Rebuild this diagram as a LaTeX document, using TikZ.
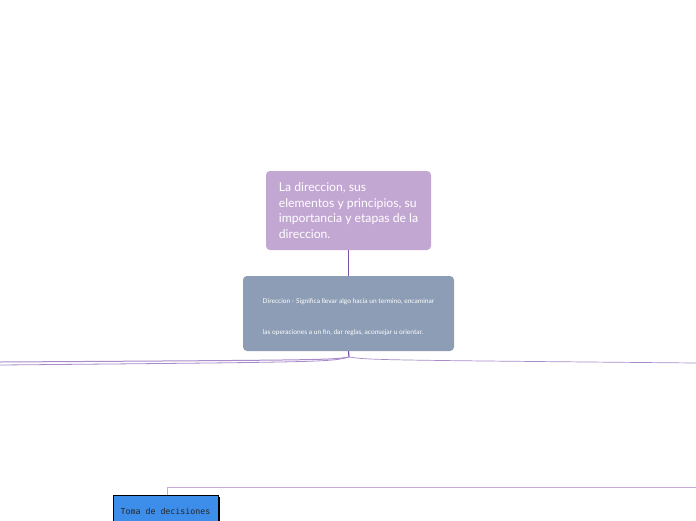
\documentclass[tikz,border=0pt]{standalone}
\usepackage{fontspec}
\setmainfont{Lato}
\newfontfamily\boxmono{DejaVu Sans Mono}
\usetikzlibrary{positioning,shadows}

\definecolor{titlepurple}{HTML}{C3A7D3}
\definecolor{defgray}{HTML}{8C9DB5}
\definecolor{linkpurple}{HTML}{7E52AB}
\definecolor{branchpurple}{HTML}{A98BCB}
\definecolor{lightpurple}{HTML}{C4ABDA}
\definecolor{decblue}{HTML}{3D8EEA}

\begin{document}
\begin{tikzpicture}[
  x=1pt, y=-1pt,
  topic/.style={rounded corners=4pt, fill=titlepurple, text=white, align=left,
    minimum width=165pt, minimum height=79pt, inner sep=0pt,
    font=\fontsize{12.2}{15.4}\selectfont},
  defbox/.style={rounded corners=4pt, fill=defgray, text=white, align=left,
    minimum width=211pt, minimum height=75pt, inner sep=0pt,
    font=\fontsize{6.6}{7.5}\selectfont},
  subbox/.style={draw=black, fill=decblue, text=black!85, drop shadow={shadow xshift=1.5pt, shadow yshift=-1.5pt, fill=black, opacity=1},
    minimum width=105pt, minimum height=32pt, inner sep=0pt,
    font=\boxmono\fontsize{8.3}{9}\selectfont},
  link/.style={linkpurple, line width=1.2pt},
  branch/.style={branchpurple, line width=1pt},
]
\useasboundingbox [fill=white] (0,0) rectangle (696,520);

% main topic and its definition
\node [topic] (title) at (348.5,210.5) {La direccion, sus\\ elementos y principios, su\\ importancia y etapas de la\\ direccion.};
\node [defbox] (def) at (348.5,313.5) {\rule{0pt}{12pt}Direccion - Significa llevar algo hacia un termino, encaminar\\[23pt] las operaciones a un fin, dar reglas, aconsejar u orientar.};

\draw [link] (title.south) -- (def.north);

% branches leaving the page
\coordinate (fork) at (349,357);
\coordinate (leftA) at (0,362);
\coordinate (leftB) at (0,365);
\coordinate (rightA) at (696,363);
\draw [link] (def.south) -- (fork);
\draw [branch] (fork) .. controls (330,360) .. (leftA);
\draw [branch, line width=0.8pt] (fork) .. controls (330,362) .. (leftB);
\draw [branch, line width=0.7pt] (fork) .. controls (370,360) .. (rightA);

% lower subtopic
\node [subbox] (toma) at (165.5,511) {Toma de decisiones};
\coordinate (tomaEnd) at (696,487);
\draw [lightpurple, line width=0.8pt] (toma.north -| 167,0) |- (tomaEnd);
\end{tikzpicture}
\end{document}
